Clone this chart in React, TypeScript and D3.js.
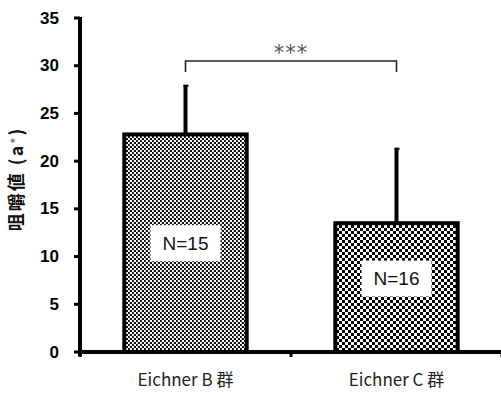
import React from "react";
import * as d3 from "d3";

// chart data
const groups = ["Eichner B 群", "Eichner C 群"];
const means = [22.8, 13.5];
const sds = [5.2, 7.9];
const counts = ["N=15", "N=16"];
const yTicks = [0, 5, 10, 15, 20, 25, 30, 35];
const sigLabel = "***";

const W = 501;
const H = 393;
const margin = { left: 80, right: -1, top: 18, bottom: 41 };

export default function App() {
  const x = d3
    .scaleBand()
    .domain(groups)
    .range([margin.left, W - margin.right])
    .paddingInner(0.42)
    .paddingOuter(0.21);
  const y = d3.scaleLinear().domain([0, 35]).range([H - margin.bottom, margin.top]);

  const bw = x.bandwidth();
  const step = x.step();
  const y0 = y(0);
  const cx = (g: string) => (x(g) as number) + bw / 2;
  const labelFrac = [0.5, 0.57];
  const patterns = ["patB", "patC"];
  const bracketY = y(30.5);

  return (
    <svg width={W} height={H} style={{ display: "block", position: "absolute", left: 0, top: 0 }}>
      <defs>
        <pattern id="patB" width={4} height={4} patternUnits="userSpaceOnUse">
          <rect width={4} height={4} fill="#fff" />
          <rect x={0} y={0} width={2} height={2} fill="#111" />
          <rect x={2} y={2} width={2} height={2} fill="#111" />
          <rect x={1} y={0} width={1} height={4} fill="#888" opacity={0.35} />
        </pattern>
        <pattern id="patC" width={6} height={6} patternUnits="userSpaceOnUse">
          <rect width={6} height={6} fill="#fff" />
          <rect x={0} y={0} width={3} height={3} fill="#000" />
          <rect x={3} y={3} width={3} height={3} fill="#000" />
        </pattern>
      </defs>

      {/* bars */}
      {groups.map((g, i) => (
        <g key={g}>
          <line
            x1={cx(g)}
            x2={cx(g)}
            y1={y(means[i])}
            y2={y(means[i] + sds[i])}
            stroke="#000"
            strokeWidth={4}
          />
          <line
            x1={cx(g) - 2}
            x2={cx(g) + 3}
            y1={y(means[i] + sds[i]) + 1}
            y2={y(means[i] + sds[i]) + 1}
            stroke="#000"
            strokeWidth={2}
          />
          <rect
            x={x(g)}
            y={y(means[i])}
            width={bw}
            height={y0 - y(means[i])}
            fill={`url(#${patterns[i]})`}
            stroke="#000"
            strokeWidth={4}
          />
          <rect
            x={cx(g) - 35}
            y={y(means[i] * labelFrac[i]) - 18}
            width={70}
            height={36}
            fill="#fff"
          />
          <text
            x={cx(g)}
            y={y(means[i] * labelFrac[i])}
            textAnchor="middle"
            dominantBaseline="central"
            fontFamily="Liberation Sans, Arial, sans-serif"
            fontSize={19}
            fill="#111"
          >
            {counts[i]}
          </text>
        </g>
      ))}

      {/* y axis */}
      <line x1={margin.left} x2={margin.left} y1={y(35) - 1} y2={y0 + 4} stroke="#000" strokeWidth={4} />
      {yTicks.map((t) => (
        <g key={t}>
          <line x1={margin.left - 6} x2={margin.left} y1={y(t)} y2={y(t)} stroke="#000" strokeWidth={3} />
          <text
            x={margin.left - 21}
            y={y(t)}
            textAnchor="end"
            dominantBaseline="central"
            fontFamily="Liberation Sans, Arial, sans-serif"
            fontWeight="bold"
            fontSize={17}
            fill="#000"
          >
            {t}
          </text>
        </g>
      ))}

      {/* x axis */}
      <line x1={margin.left - 2} x2={W} y1={y0} y2={y0} stroke="#000" strokeWidth={4} />
      {[0, 1, 2].map((k) => (
        <line
          key={k}
          x1={margin.left + k * step}
          x2={margin.left + k * step}
          y1={y0}
          y2={y0 + 5}
          stroke="#000"
          strokeWidth={3}
        />
      ))}
      {groups.map((g) => (
        <text
          key={g}
          x={cx(g)}
          y={y0 + 34}
          textAnchor="middle"
          fontFamily="Noto Sans CJK JP, Noto Sans, sans-serif"
          fontSize={17}
          fill="#222"
        >
          {g}
        </text>
      ))}

      {/* y axis title */}
      <text
        transform={`translate(23, ${(y(0) + y(35)) / 2 - 6}) rotate(-90)`}
        textAnchor="middle"
        fontFamily="Noto Sans CJK JP, sans-serif"
        fontWeight="bold"
        fontSize={18}
        letterSpacing={2}
        fill="#111"
      >
        咀嚼値 (a<tspan fontSize={12} fill="#777" dy={-3}>*</tspan><tspan dy={3}>)</tspan>
      </text>

      {/* significance bracket */}
      <path
        d={`M${cx(groups[0])},${bracketY + 11} V${bracketY} H${cx(groups[1])} V${bracketY + 11}`}
        fill="none"
        stroke="#222"
        strokeWidth={1.6}
      />
      <text
        x={(cx(groups[0]) + cx(groups[1])) / 2}
        y={bracketY - 1}
        textAnchor="middle"
        fontFamily="DejaVu Sans, sans-serif"
        fontSize={21}
        fill="#555"
        letterSpacing={1}
      >
        {sigLabel}
      </text>
    </svg>
  );
}
